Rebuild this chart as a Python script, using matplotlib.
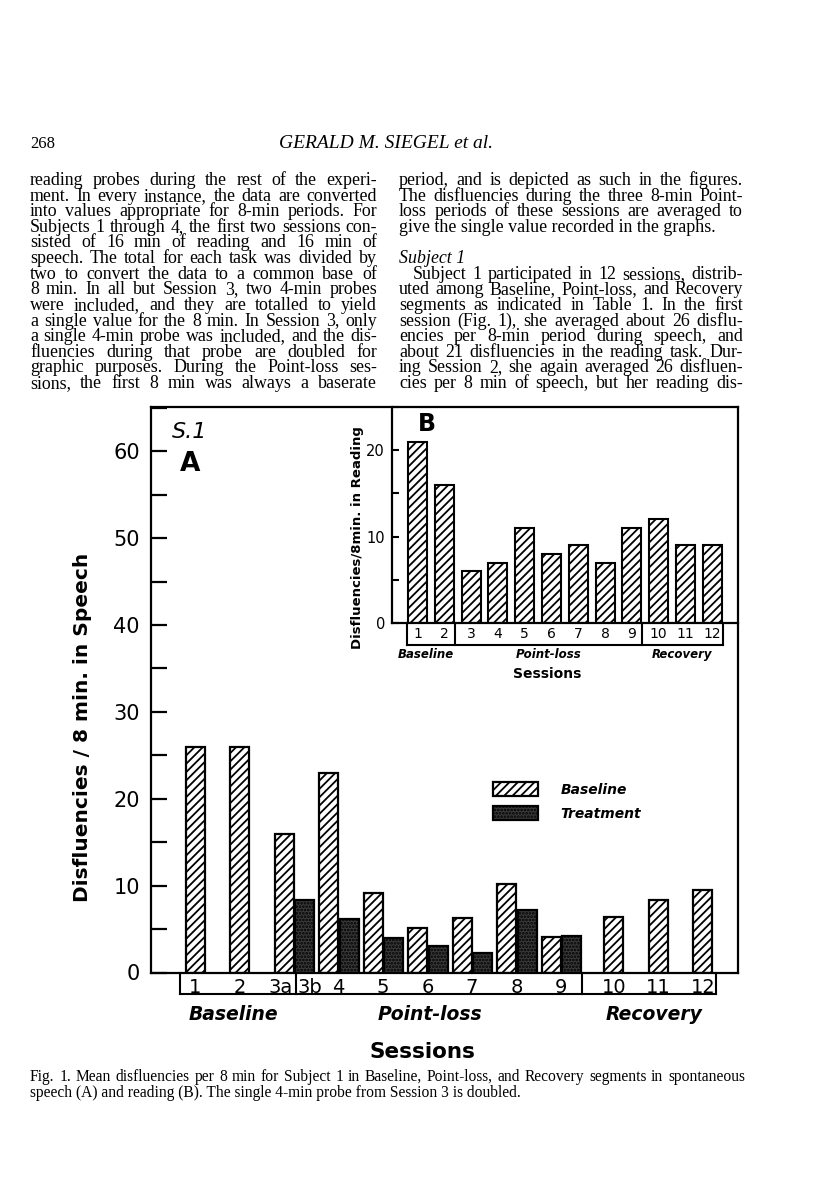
import numpy as np
import matplotlib
matplotlib.use('Agg')
from matplotlib import pyplot as plt
from matplotlib.patches import Patch
from matplotlib.ticker import MultipleLocator

W, H = 816, 1191

# sessions and phases (shared by both panels)
sessions = ['1', '2', '3', '4', '5', '6', '7', '8', '9', '10', '11', '12']
phase = ['Baseline'] * 2 + ['Point-loss'] * 7 + ['Recovery'] * 3

# panel A: disfluencies / 8 min in speech
speech_base = [26, 26, 16, 23, 9.2, 5.1, 6.3, 10.2, 4.1, 6.4, 8.4, 9.5]
speech_treat = [np.nan, np.nan, 8.3, 6.2, 4.0, 3.1, 2.2, 7.2, 4.2, np.nan, np.nan, np.nan]

# panel B: disfluencies / 8 min in reading
reading = [21, 16, 6, 7, 11, 8, 9, 7, 11, 12, 9, 9]

left_lines = [
    "reading probes during the rest of the experi-",
    "ment. In every instance, the data are converted",
    "into values appropriate for 8-min periods. For",
    "Subjects 1 through 4, the first two sessions con-",
    "sisted of 16 min of reading and 16 min of",
    "speech. The total for each task was divided by",
    "two to convert the data to a common base of",
    "8 min. In all but Session 3, two 4-min probes",
    "were included, and they are totalled to yield",
    "a single value for the 8 min. In Session 3, only",
    "a single 4-min probe was included, and the dis-",
    "fluencies during that probe are doubled for",
    "graphic purposes. During the Point-loss ses-",
    "sions, the first 8 min was always a baserate",
]
right_lines = [
    "period, and is depicted as such in the figures.",
    "The disfluencies during the three 8-min Point-",
    "loss periods of these sessions are averaged to",
    "give the single value recorded in the graphs.",
    "",
    "Subject 1",
    "Subject 1 participated in 12 sessions, distrib-",
    "uted among Baseline, Point-loss, and Recovery",
    "segments as indicated in Table 1. In the first",
    "session (Fig. 1), she averaged about 26 disflu-",
    "encies per 8-min period during speech, and",
    "about 21 disfluencies in the reading task. Dur-",
    "ing Session 2, she again averaged 26 disfluen-",
    "cies per 8 min of speech, but her reading dis-",
]
caption = [
    "Fig. 1. Mean disfluencies per 8 min for Subject 1 in Baseline, Point-loss, and Recovery segments in spontaneous",
    "speech (A) and reading (B). The single 4-min probe from Session 3 is doubled.",
]

plt.rcParams['hatch.linewidth'] = 1.3
plt.rcParams['hatch.color'] = 'black'

fig = plt.figure(figsize=(W / 100, H / 100), dpi=100)
rend = fig.canvas.get_renderer()


def fx(x):
    return x / W


def fy(y):
    return 1 - y / H


def put_line(line, x0, x1, y, justify=True, **kw):
    if not justify:
        fig.text(fx(x0), fy(y), line, va='baseline', **kw)
        return
    words = line.split(' ')
    ts = [fig.text(fx(x0), fy(y), w, va='baseline', **kw) for w in words]
    ws = [t.get_window_extent(rend).width for t in ts]
    gap = (x1 - x0 - sum(ws)) / max(len(ws) - 1, 1)
    x = x0
    for t, w in zip(ts, ws):
        t.set_x(fx(x))
        x += w + gap


# ---- page text ----
serif = dict(family='Liberation Serif', fontsize=12.9)
fig.text(fx(30), fy(148), '268', va='baseline', family='Liberation Serif', fontsize=12)
fig.text(fx(386), fy(148), 'GERALD M. SIEGEL et al.', va='baseline', ha='center',
         family='Liberation Serif', style='italic', fontsize=14)

L0, L1, R0, R1 = 30, 377, 399, 743
for i, line in enumerate(left_lines):
    put_line(line, L0, L1, 185 + 15.62 * i, **serif)
for i, line in enumerate(right_lines):
    y = 185 + 15.62 * i
    if not line:
        continue
    if line == 'Subject 1':
        fig.text(fx(R0), fy(y), line, va='baseline', family='Liberation Serif',
                 style='italic', fontsize=12.9)
    elif line.startswith('give'):
        put_line(line, R0, R1, y, justify=False, **serif)
    elif line.startswith('Subject 1 part'):
        put_line(line, R0 + 14, R1, y, **serif)
    else:
        put_line(line, R0, R1, y, **serif)

put_line(caption[0], L0, R1 + 2, 1081, family='Liberation Serif', fontsize=11.2)
put_line(caption[1], L0, R1, 1097, justify=False, family='Liberation Serif', fontsize=11.2)

# ---- panel A ----
ax = fig.add_axes([fx(151), fy(972.5), (738 - 151) / W, (972.5 - 407) / H])
ph = np.array(phase)
xa = np.arange(len(sessions)) + np.where(ph == 'Recovery', 0.4, 0.0)
wa = 0.43
da = 0.46
tr = np.array(speech_treat)
m = ~np.isnan(tr)

ax.bar(xa, speech_base, wa, color='white', edgecolor='black', hatch='////', lw=1.6, zorder=2)
ax.bar(xa[m] + da, tr[m], wa, color='#3a3a3a', edgecolor='black', hatch='.....', lw=1.6, zorder=2)

ax.set_xlim(-0.99, 12.19)
ax.set_ylim(0, 65.1)
ax.set_xticks([])
ax.set_yticks(np.arange(0, 61, 10))
ax.yaxis.set_minor_locator(MultipleLocator(5))
ax.tick_params(axis='y', which='both', direction='in', length=11.5, width=1.6,
               labelsize=15, pad=8)
for s in ax.spines.values():
    s.set_linewidth(1.6)

# session number boxes under A
yb = -2.5
left = xa[0] - wa / 2 - 0.12
div1 = xa[2] + wa / 2 + 0.04
div2 = xa[8] + da + wa / 2 + 0.02
right = xa[-1] + wa / 2 + 0.08
line_kw = dict(color='black', lw=1.5, clip_on=False)
for xv in [left, div1, div2, right]:
    ax.plot([xv, xv], [0, yb], **line_kw)
ax.plot([left, right], [yb, yb], **line_kw)

num_kw = dict(ha='center', va='center', fontsize=14)
for i, s in enumerate(sessions):
    if s == '3':
        ax.text(xa[i] - 0.07, -1.75, '3a', **num_kw)
        ax.text(xa[i] + da + 0.12, -1.75, '3b', **num_kw)
    elif m[i]:
        ax.text(xa[i] + wa / 2, -1.75, s, **num_kw)
    else:
        ax.text(xa[i], -1.75, s, **num_kw)

grp_kw = dict(ha='center', va='center', fontsize=13.5, fontweight='bold', style='italic')
ax.text((left + div1) / 2 - 0.1, -4.8, 'Baseline', **grp_kw)
ax.text((div1 + div2) / 2 - 0.2, -4.8, 'Point-loss', **grp_kw)
ax.text((div2 + right) / 2 + 0.1, -4.8, 'Recovery', **grp_kw)
ax.text(5.1, -9.2, 'Sessions', ha='center', va='center', fontsize=15.5, fontweight='bold')

ax.text(0.035, 0.955, 'S.1', transform=ax.transAxes, fontsize=16, style='italic',
        va='center', ha='left')
ax.text(0.05, 0.9, 'A', transform=ax.transAxes, fontsize=19, fontweight='bold',
        va='center', ha='left')

fig.text(fx(83), fy(727), 'Disfluencies / 8 min. in Speech', rotation=90, ha='center',
         va='center', fontsize=14.5, fontweight='bold')

handles = [Patch(facecolor='white', edgecolor='black', hatch='////', lw=1.6, label='Baseline'),
           Patch(facecolor='#3a3a3a', edgecolor='black', hatch='.....', lw=1.6, label='Treatment')]
ax.legend(handles=handles, loc='upper left', bbox_to_anchor=(fx(493), fy(782)),
          bbox_transform=fig.transFigure, frameon=False, borderpad=0, borderaxespad=0,
          handlelength=3.25, handleheight=1.15, handletextpad=1.6, labelspacing=0.7,
          prop=dict(size=10, weight='bold', style='italic'))

# ---- panel B (inset) ----
axb = fig.add_axes([fx(392), fy(623), (738 - 392) / W, (623 - 407) / H])
axb.patch.set_visible(False)
xb = np.arange(len(sessions))
wb = 0.71
axb.bar(xb, reading, wb, color='white', edgecolor='black', hatch='////', lw=1.5, zorder=2)
axb.set_xlim(-0.95, 11.96)
axb.set_ylim(0, 25)
axb.set_xticks([])
axb.set_yticks([0, 10, 20])
axb.yaxis.set_minor_locator(MultipleLocator(5))
axb.tick_params(axis='y', which='both', direction='in', length=5, width=1.5,
                labelsize=10.5, pad=5)
axb.spines['top'].set_visible(False)
axb.spines['right'].set_visible(False)
axb.spines['left'].set_linewidth(1.6)
axb.spines['bottom'].set_linewidth(1.6)

ybb = -2.5
bl = xb[0] - wb / 2 - 0.02
bd1 = xb[1] + wb / 2 + 0.03
bd2 = xb[8] + wb / 2 + 0.03
br = xb[-1] + wb / 2 + 0.03
for xv in [bl, bd1, bd2, br]:
    axb.plot([xv, xv], [0, ybb], **line_kw)
axb.plot([bl, br], [ybb, ybb], **line_kw)
for i, s in enumerate(sessions):
    axb.text(xb[i], -1.3, s, ha='center', va='center', fontsize=10)

gkb = dict(ha='center', va='center', fontsize=8.5, fontweight='bold', style='italic')
axb.text((bl + bd1) / 2 - 0.2, -3.6, 'Baseline', **gkb)
axb.text((bd1 + bd2) / 2, -3.6, 'Point-loss', **gkb)
axb.text((bd2 + br) / 2, -3.6, 'Recovery', **gkb)
axb.text(4.85, -5.9, 'Sessions', ha='center', va='center', fontsize=10, fontweight='bold')
axb.text(0.1, 0.92, 'B', transform=axb.transAxes, fontsize=17, fontweight='bold',
         ha='center', va='center')

fig.text(fx(357), fy(538), 'Disfluencies/8min. in Reading', rotation=90, ha='center',
         va='center', fontsize=9.5, fontweight='bold')

fig.savefig('out.png', dpi=100, facecolor='white')
